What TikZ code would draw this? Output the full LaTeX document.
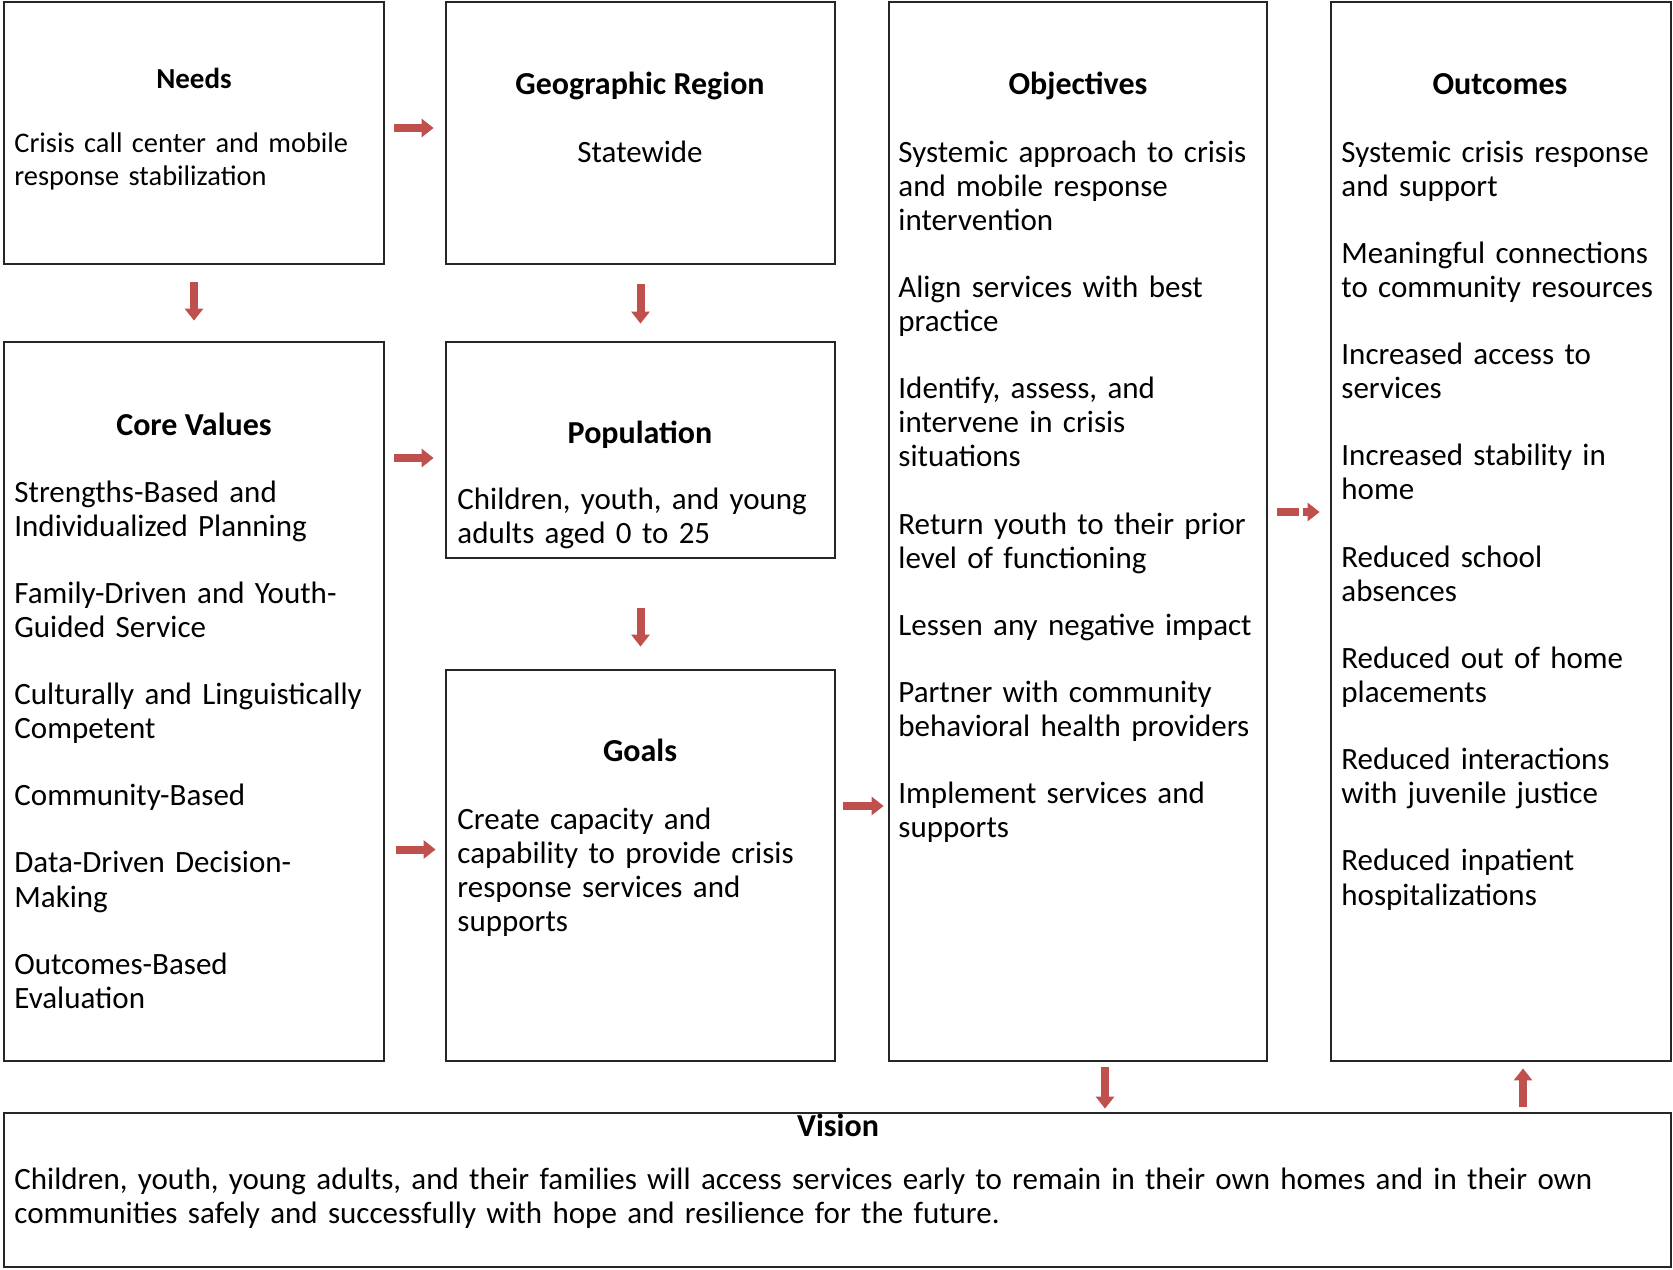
\documentclass[tikz,border=0pt]{standalone}
\usepackage{fontspec}
\setmainfont{Carlito}
\usetikzlibrary{positioning}
\usetikzlibrary{fit}
\usetikzlibrary{arrows.meta}
\definecolor{arrowred}{HTML}{C0504D}
\definecolor{boxline}{HTML}{262626}
\tikzset{
  box/.style={draw=boxline, line width=1.4pt, inner sep=0pt},
  head/.style={font=\bfseries\fontsize{16}{17}\selectfont, anchor=base, inner sep=0pt},
  smallhead/.style={font=\bfseries\fontsize{14.5}{17}\selectfont, anchor=base, inner sep=0pt},
  body/.style={font=\fontsize{15.5}{17.07}\selectfont, anchor=base west, inner sep=0pt, align=left, text width=220pt},
  smallbody/.style={body, font=\fontsize{14.2}{16.5}\selectfont},
  arr/.style={arrowred, line width=4pt, -{Triangle[length=6pt,width=9pt]}},
}

\begin{document}
\begin{tikzpicture}[x=0.5pt, y=-0.5pt]
  \useasboundingbox (0,0) rectangle (1673,1269);
  % boxes
  \node[box, fit={(4,2) (384,264)}] (needs) {};
  \node[box, fit={(446,2) (835,264)}] (geo) {};
  \node[box, fit={(889,2) (1267,1061)}] (obj) {};
  \node[box, fit={(1331,2) (1671,1061)}] (outc) {};
  \node[box, fit={(4,342) (384,1061)}] (core) {};
  \node[box, fit={(446,342) (835,558)}] (popu) {};
  \node[box, fit={(446,670) (835,1061)}] (goals) {};
  \node[box, fit={(4,1113) (1671,1267)}] (vision) {};

  % titles
  \node[smallhead] (needs-title) at (194,88) {Needs};
  \node[head] (geo-title) at (640,94) {Geographic Region};
  \node[head] (obj-title) at (1078,94) {Objectives};
  \node[head] (outc-title) at (1500,94) {Outcomes};
  \node[head] (core-title) at (194,435) {Core Values};
  \node[head] (popu-title) at (640,443) {Population};
  \node[head] (goals-title) at (640,761) {Goals};
  \node[head] (vision-title) at (838,1136) {Vision};

  % texts
  \node[smallbody] (needs-text) at (14,152) {Crisis call center and mobile\\response stabilization};
  \node[body, anchor=base, align=center] (geo-text) at (640,162) {Statewide};
  \node[body] (obj-text) at (898,162) {Systemic approach to crisis\\and mobile response\\intervention\\[16.5pt]
    Align services with best\\practice\\[16.5pt]
    Identify, assess, and\\intervene in crisis\\situations\\[16.5pt]
    Return youth to their prior\\level of functioning\\[16.5pt]
    Lessen any negative impact\\[16.5pt]
    Partner with community\\behavioral health providers\\[16.5pt]
    Implement services and\\supports};
  \node[body] (outc-text) at (1341,162) {Systemic crisis response\\and support\\[16.5pt]
    Meaningful connections\\to community resources\\[16.5pt]
    Increased access to\\services\\[16.5pt]
    Increased stability in\\home\\[16.5pt]
    Reduced school\\absences\\[16.5pt]
    Reduced out of home\\placements\\[16.5pt]
    Reduced interactions\\with juvenile justice\\[16.5pt]
    Reduced inpatient\\hospitalizations};
  \node[body] (core-text) at (14,502) {Strengths-Based and\\Individualized Planning\\[16.5pt]
    Family-Driven and Youth-\\Guided Service\\[16.5pt]
    Culturally and Linguistically\\Competent\\[16.5pt]
    Community-Based\\[16.5pt]
    Data-Driven Decision-\\Making\\[16.5pt]
    Outcomes-Based\\Evaluation};
  \node[body] (popu-text) at (457,509) {Children, youth, and young\\adults aged 0 to 25};
  \node[body] (goals-text) at (457,829) {Create capacity and\\capability to provide crisis\\response services and\\supports};
  \node[body, text width=820pt] (vision-text) at (14,1189) {Children, youth, young adults, and their families will access services early to remain in their own homes and in their own\\communities safely and successfully with hope and resilience for the future.};

  % arrows
  \draw[arr, shorten <=4.5pt, shorten >=5.5pt] ([yshift=2.5pt]needs.east) -- ([yshift=2.5pt]needs.east -| geo.west);
  \draw[arr, shorten <=8.5pt, shorten >=10pt] (needs.south) -- (needs.south |- core.north);
  \draw[arr, shorten <=9.5pt, shorten >=8.5pt] (geo.south) -- (geo.south |- popu.north);
  \draw[arr, shorten <=4.5pt, shorten >=5.5pt] ([yshift=-4pt]popu.west -| core.east) -- ([yshift=-4pt]popu.west);
  \draw[arr, shorten <=24.5pt, shorten >=11pt] (popu.south) -- (popu.south |- goals.north);
  \draw[arr, shorten <=5.5pt, shorten >=4.5pt] ([yshift=8pt]goals.west -| core.east) -- ([yshift=8pt]goals.west);
  \draw[arr, shorten <=3.5pt, shorten >=2pt] ([yshift=29.75pt]goals.east) -- ([yshift=29.75pt]goals.east -| obj.west);
  \draw[arr, dash pattern=on 11pt off 2pt, shorten <=4.5pt, shorten >=5pt] ([yshift=9.75pt]obj.east) -- ([yshift=9.75pt]obj.east -| outc.west);
  \draw[arr, shorten <=2.5pt, shorten >=1.5pt] ([xshift=13.5pt]obj.south) -- ([xshift=13.5pt]obj.south |- vision.north);
  \draw[arr, shorten <=2.5pt, shorten >=3pt] ([xshift=11pt]outc.south |- vision.north) -- ([xshift=11pt]outc.south);
\end{tikzpicture}
\end{document}
